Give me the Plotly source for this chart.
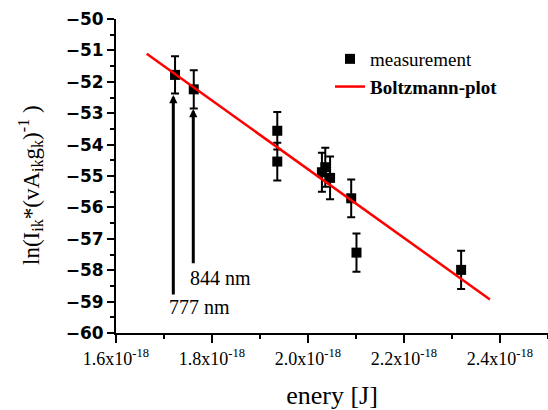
import plotly.graph_objects as go

# measured points (energy in J, ln value, error)
energy = [1.723e-18, 1.762e-18, 1.936e-18, 1.936e-18, 2.029e-18, 2.036e-18,
          2.046e-18, 2.090e-18, 2.101e-18, 2.319e-18]
ln_val = [-51.78, -52.24, -53.56, -54.54, -54.88, -54.72, -55.06, -55.71, -57.44, -57.99]
ln_err = [0.59, 0.61, 0.60, 0.60, 0.62, 0.62, 0.68, 0.60, 0.61, 0.61]

# Boltzmann-plot line
fit_x = [1.664e-18, 2.379e-18]
fit_y = [-51.11, -58.93]

# tick labels
x_tickvals = [1.6e-18, 1.8e-18, 2.0e-18, 2.2e-18, 2.4e-18]
x_ticktext = ["1.6x10<sup>-18</sup>", "1.8x10<sup>-18</sup>", "2.0x10<sup>-18</sup>",
              "2.2x10<sup>-18</sup>", "2.4x10<sup>-18</sup>"]
y_tickvals = [-60, -59, -58, -57, -56, -55, -54, -53, -52, -51, -50]

# arrows: (x, head y, base y)
arrow_777 = (1.7194e-18, -52.42, -58.82)
arrow_844 = (1.761e-18, -52.87, -57.83)
label_777 = (1.773e-18, -59.16, "777 nm")
label_844 = (1.8167e-18, -58.25, "844 nm")

W, H = 548, 410
L, R, T, B = 116, 0, 19, 77
pw, ph = W - L - R, H - T - B

def px(xp):
    return (xp - L) / pw

def py(yp):
    return (H - B - yp) / ph

serif = "Liberation Serif"

fig = go.Figure()
fig.add_trace(go.Scatter(
    x=energy, y=ln_val, mode="markers", name="measurement",
    marker=dict(symbol="square", size=10, color="black"),
    error_y=dict(type="data", array=ln_err, color="black", thickness=2, width=4),
))
fig.add_trace(go.Scatter(
    x=fit_x, y=fit_y, mode="lines", name="<b>Boltzmann-plot</b>",
    line=dict(color="red", width=2.5),
))

annotations = []
for (ax_, hy, by) in (arrow_777, arrow_844):
    annotations.append(dict(
        x=ax_, y=hy, ax=ax_, ay=by, xref="x", yref="y", axref="x", ayref="y",
        showarrow=True, arrowhead=2, arrowsize=0.55, arrowwidth=3, arrowcolor="black",
        text="",
    ))
annotations.append(dict(x=label_777[0], y=label_777[1], text=label_777[2], xref="x", yref="y",
                        showarrow=False, xanchor="center", yanchor="middle",
                        font=dict(family=serif, size=20, color="black")))
annotations.append(dict(x=label_844[0], y=label_844[1], text=label_844[2], xref="x", yref="y",
                        showarrow=False, xanchor="center", yanchor="middle",
                        font=dict(family=serif, size=20, color="black")))
annotations.append(dict(
    x=px(30), y=py(185), xref="paper", yref="paper", showarrow=False, textangle=-90,
    xanchor="center", yanchor="middle",
    text="ln(I<sub>ik</sub>*(vA<sub>ik</sub>g<sub>k</sub>)<sup>-1</sup> )",
    font=dict(family=serif, size=23, color="black"),
))

fig.update_layout(
    width=W, height=H,
    margin=dict(l=L, r=R, t=T, b=B, pad=0),
    paper_bgcolor="white", plot_bgcolor="white",
    showlegend=True,
    legend=dict(x=px(330), y=py(40), xanchor="left", yanchor="top",
                bgcolor="rgba(0,0,0,0)", font=dict(family=serif, size=19, color="black"),
                tracegroupgap=0),
    annotations=annotations,
)
fig.update_xaxes(
    range=[1.6e-18, 2.5e-18], showgrid=False, zeroline=False,
    showline=True, linecolor="black", linewidth=2,
    ticks="outside", ticklen=8, tickwidth=2, tickcolor="black",
    tickvals=x_tickvals, ticktext=x_ticktext,
    tickfont=dict(family=serif, size=18, color="black"),
    minor=dict(dtick=0.1e-18, tick0=1.6e-18, ticks="outside", ticklen=4, tickwidth=2, tickcolor="black"),
    title=dict(text="enery [J]", font=dict(family=serif, size=26, color="black"), standoff=18),
)
fig.update_yaxes(
    range=[-60, -50], showgrid=False, zeroline=False,
    showline=True, linecolor="black", linewidth=2,
    ticks="outside", ticklen=7, tickwidth=2, tickcolor="black",
    tickvals=y_tickvals,
    tickfont=dict(family="DejaVu Sans", size=17, color="black", weight="bold"),
    minor=dict(dtick=0.5, tick0=-60, ticks="outside", ticklen=4, tickwidth=2, tickcolor="black"),
)

fig.write_html("out.html")
